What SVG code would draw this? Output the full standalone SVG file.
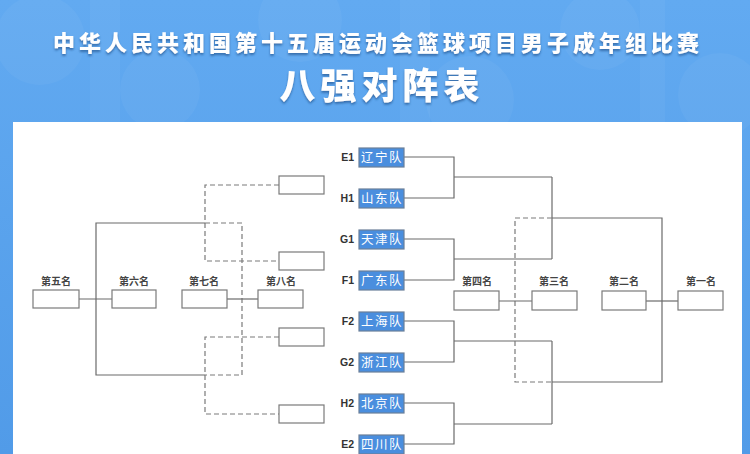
<svg xmlns="http://www.w3.org/2000/svg" width="750" height="454" viewBox="0 0 750 454">
<defs>
<linearGradient id="bg" x1="0" y1="0" x2="0" y2="1">
<stop offset="0" stop-color="#62aaf1"/>
<stop offset="1" stop-color="#519be8"/>
</linearGradient>
<filter id="sh" x="-10%" y="-20%" width="120%" height="150%">
<feDropShadow dx="0" dy="2" stdDeviation="1.2" flood-color="#24558f" flood-opacity="0.7"/>
</filter>
<style>
.title{font-family:"Noto Sans CJK SC","Noto Sans",sans-serif;font-weight:900;fill:#fff}
.line{fill:none;stroke:#6b6b6b;stroke-width:1.2}
.dash{fill:none;stroke:#7a7a7a;stroke-width:1.2;stroke-dasharray:5 3}
.pbox{fill:#fff;stroke:#7a7a7a;stroke-width:1.2}
.tbox{fill:#4a8ede;stroke:#6a7f99;stroke-width:1.2}
.tname{font-family:"Noto Sans CJK SC",sans-serif;font-size:12.5px;fill:#fff;letter-spacing:1.5px;text-anchor:middle}
.seed{font-family:"Liberation Sans","Noto Sans",sans-serif;font-size:10.5px;font-weight:700;fill:#333;text-anchor:end}
.plabel{font-family:"Noto Sans CJK SC",sans-serif;font-size:10px;font-weight:700;fill:#444;text-anchor:middle}
.deco{fill:#ffffff;opacity:0.04}
</style>
</defs>
<rect x="0" y="0" width="750" height="454" fill="url(#bg)"/>
<g id="pattern">
<circle class="deco" cx="40" cy="40" r="45"/>
<circle class="deco" cx="160" cy="90" r="40"/>
<circle class="deco" cx="300" cy="20" r="42"/>
<circle class="deco" cx="470" cy="100" r="44"/>
<circle class="deco" cx="600" cy="30" r="40"/>
<circle class="deco" cx="720" cy="95" r="42"/>
<rect class="deco" x="90" y="0" width="30" height="122"/>
<rect class="deco" x="400" y="0" width="30" height="122"/>
<rect class="deco" x="640" y="0" width="25" height="122"/>
</g>
<g id="header">
<text class="title" x="378" y="51" font-size="22" letter-spacing="4" text-anchor="middle" filter="url(#sh)">中华人民共和国第十五届运动会篮球项目男子成年组比赛</text>
<text class="title" x="382" y="99" font-size="36" letter-spacing="5" text-anchor="middle" filter="url(#sh)">八强对阵表</text>
</g>
<rect id="panel" x="13" y="122" width="729" height="340" fill="#fff"/>
<g id="connectors">
<path class="line" d="M404,157H454V198H404M454,177H552"/>
<path class="line" d="M404,239H454V280H404M454,259H552"/>
<path class="line" d="M552,177V259"/>
<path class="line" d="M404,321H454V362H404M454,341H552"/>
<path class="line" d="M404,403H454V444H404M454,424H552"/>
<path class="line" d="M552,341V424"/>
<path class="line" d="M552,218H662V382H552"/>
<path class="dash" d="M552,218H515V382H552"/>
<path class="line" d="M499,301H532"/>
<path class="line" d="M646,301H678"/>
<path class="dash" d="M279,185H205V261H279"/>
<path class="dash" d="M279,337H205V414H279"/>
<path class="dash" d="M205,223H242V375H205"/>
<path class="line" d="M205,223H96V375H205"/>
<path class="line" d="M79,299H112"/>
<path class="line" d="M227,299H258"/>
</g>
<g id="team-e1"><text class="seed" x="354" y="161">E1</text><rect class="tbox" x="359" y="148" width="45" height="19"/><text class="tname" x="382" y="162">辽宁队</text></g>
<g id="team-h1"><text class="seed" x="354" y="202">H1</text><rect class="tbox" x="359" y="189" width="45" height="19"/><text class="tname" x="382" y="203">山东队</text></g>
<g id="team-g1"><text class="seed" x="354" y="243">G1</text><rect class="tbox" x="359" y="230" width="45" height="19"/><text class="tname" x="382" y="244">天津队</text></g>
<g id="team-f1"><text class="seed" x="354" y="284">F1</text><rect class="tbox" x="359" y="271" width="45" height="19"/><text class="tname" x="382" y="285">广东队</text></g>
<g id="team-f2"><text class="seed" x="354" y="325">F2</text><rect class="tbox" x="359" y="312" width="45" height="19"/><text class="tname" x="382" y="326">上海队</text></g>
<g id="team-g2"><text class="seed" x="354" y="366">G2</text><rect class="tbox" x="359" y="353" width="45" height="19"/><text class="tname" x="382" y="367">浙江队</text></g>
<g id="team-h2"><text class="seed" x="354" y="407">H2</text><rect class="tbox" x="359" y="394" width="45" height="19"/><text class="tname" x="382" y="408">北京队</text></g>
<g id="team-e2"><text class="seed" x="354" y="448">E2</text><rect class="tbox" x="359" y="435" width="45" height="19"/><text class="tname" x="382" y="449">四川队</text></g>
<g id="loser-1"><rect class="pbox" x="279" y="176" width="45" height="18"/></g>
<g id="loser-2"><rect class="pbox" x="279" y="252" width="45" height="18"/></g>
<g id="loser-3"><rect class="pbox" x="279" y="328" width="45" height="18"/></g>
<g id="loser-4"><rect class="pbox" x="279" y="405" width="45" height="18"/></g>
<g id="place-5"><text class="plabel" x="56" y="285">第五名</text><rect class="pbox" x="33" y="290" width="46" height="18"/></g>
<g id="place-6"><text class="plabel" x="134" y="285">第六名</text><rect class="pbox" x="112" y="290" width="44" height="18"/></g>
<g id="place-7"><text class="plabel" x="204" y="285">第七名</text><rect class="pbox" x="182" y="290" width="45" height="18"/></g>
<g id="place-8"><text class="plabel" x="281" y="285">第八名</text><rect class="pbox" x="258" y="290" width="45" height="18"/></g>
<g id="place-4"><text class="plabel" x="477" y="285">第四名</text><rect class="pbox" x="454" y="291" width="45" height="19"/></g>
<g id="place-3"><text class="plabel" x="554" y="285">第三名</text><rect class="pbox" x="532" y="291" width="45" height="19"/></g>
<g id="place-2"><text class="plabel" x="624" y="285">第二名</text><rect class="pbox" x="602" y="291" width="44" height="19"/></g>
<g id="place-1"><text class="plabel" x="701" y="285">第一名</text><rect class="pbox" x="678" y="291" width="45" height="19"/></g>
</svg>
